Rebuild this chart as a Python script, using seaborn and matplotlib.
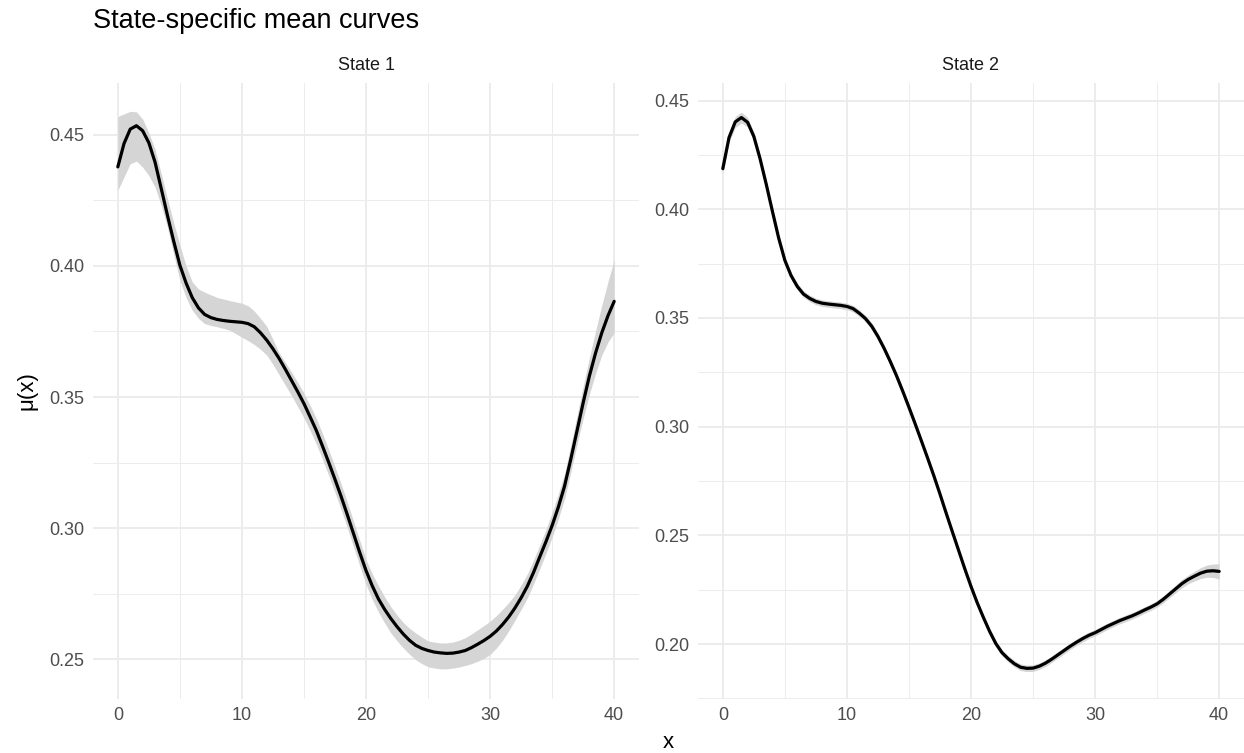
import numpy as np
import pandas as pd
import matplotlib
matplotlib.use("Agg")
import matplotlib.pyplot as plt
import seaborn as sns
from matplotlib.ticker import MultipleLocator, FormatStrFormatter

# ---------------- data (x step 0.5) ----------------
x_grid = [i / 2 for i in range(81)]

state1_mean = [0.4378, 0.4467, 0.4522, 0.4535, 0.4516, 0.4470, 0.4396, 0.4295, 0.4193, 0.4095,
               0.4003, 0.3935, 0.3879, 0.3840, 0.3815, 0.3803, 0.3796, 0.3792, 0.3789, 0.3787,
               0.3785, 0.3780, 0.3768, 0.3745, 0.3717, 0.3684, 0.3647, 0.3606, 0.3563, 0.3520,
               0.3475, 0.3424, 0.3372, 0.3312, 0.3250, 0.3186, 0.3120, 0.3050, 0.2978, 0.2906,
               0.2838, 0.2780, 0.2730, 0.2690, 0.2655, 0.2624, 0.2596, 0.2572, 0.2553, 0.2541,
               0.2533, 0.2527, 0.2524, 0.2522, 0.2523, 0.2527, 0.2533, 0.2544, 0.2557, 0.2571,
               0.2587, 0.2607, 0.2632, 0.2661, 0.2695, 0.2734, 0.2778, 0.2831, 0.2890, 0.2948,
               0.3010, 0.3080, 0.3160, 0.3262, 0.3370, 0.3478, 0.3580, 0.3668, 0.3745, 0.3810,
               0.3865]
state1_lower = [0.4288, 0.4340, 0.4390, 0.4400, 0.4377, 0.4345, 0.4301, 0.4230, 0.4148, 0.4045,
                0.3945, 0.3880, 0.3831, 0.3800, 0.3780, 0.3773, 0.3768, 0.3762, 0.3755, 0.3742,
                0.3728, 0.3715, 0.3700, 0.3682, 0.3660, 0.3625, 0.3585, 0.3545, 0.3505, 0.3463,
                0.3420, 0.3372, 0.3320, 0.3262, 0.3200, 0.3136, 0.3070, 0.3000, 0.2928, 0.2855,
                0.2785, 0.2728, 0.2680, 0.2638, 0.2600, 0.2570, 0.2543, 0.2519, 0.2498, 0.2483,
                0.2471, 0.2466, 0.2463, 0.2463, 0.2466, 0.2470, 0.2476, 0.2483, 0.2492, 0.2503,
                0.2518, 0.2542, 0.2572, 0.2608, 0.2648, 0.2690, 0.2733, 0.2787, 0.2845, 0.2903,
                0.2965, 0.3035, 0.3112, 0.3212, 0.3318, 0.3418, 0.3510, 0.3590, 0.3660, 0.3710,
                0.3745]
state1_upper = [0.4570, 0.4580, 0.4590, 0.4588, 0.4560, 0.4508, 0.4445, 0.4352, 0.4256, 0.4165,
                0.4080, 0.4000, 0.3939, 0.3912, 0.3900, 0.3890, 0.3880, 0.3874, 0.3868, 0.3863,
                0.3858, 0.3848, 0.3828, 0.3800, 0.3770, 0.3720, 0.3668, 0.3632, 0.3595, 0.3556,
                0.3515, 0.3468, 0.3418, 0.3360, 0.3298, 0.3234, 0.3168, 0.3098, 0.3025, 0.2952,
                0.2880, 0.2826, 0.2780, 0.2738, 0.2700, 0.2668, 0.2640, 0.2618, 0.2600, 0.2584,
                0.2570, 0.2565, 0.2562, 0.2562, 0.2565, 0.2572, 0.2582, 0.2596, 0.2612, 0.2628,
                0.2645, 0.2666, 0.2690, 0.2716, 0.2745, 0.2783, 0.2825, 0.2878, 0.2935, 0.2995,
                0.3060, 0.3130, 0.3208, 0.3315, 0.3428, 0.3540, 0.3650, 0.3752, 0.3850, 0.3940,
                0.4024]

state2_mean = [0.4187, 0.4330, 0.4402, 0.4422, 0.4400, 0.4335, 0.4233, 0.4115, 0.3990, 0.3868,
               0.3765, 0.3695, 0.3645, 0.3610, 0.3590, 0.3576, 0.3568, 0.3564, 0.3561, 0.3558,
               0.3553, 0.3543, 0.3522, 0.3497, 0.3462, 0.3415, 0.3360, 0.3299, 0.3234, 0.3163,
               0.3089, 0.3013, 0.2935, 0.2856, 0.2775, 0.2690, 0.2602, 0.2516, 0.2431, 0.2346,
               0.2265, 0.2190, 0.2122, 0.2058, 0.2002, 0.1960, 0.1932, 0.1909, 0.1893, 0.1888,
               0.1889, 0.1898, 0.1912, 0.1930, 0.1950, 0.1970, 0.1990, 0.2008, 0.2025, 0.2040,
               0.2052, 0.2067, 0.2082, 0.2095, 0.2108, 0.2119, 0.2130, 0.2143, 0.2157, 0.2170,
               0.2185, 0.2206, 0.2230, 0.2254, 0.2278, 0.2297, 0.2312, 0.2326, 0.2335, 0.2337,
               0.2334]
state2_halfwidth = [0.0022, 0.0022, 0.0025, 0.0025, 0.0022, 0.0020, 0.0018, 0.0015, 0.0015, 0.0015,
                    0.0015, 0.0015, 0.0015, 0.0015, 0.0015, 0.0015, 0.0015, 0.0015, 0.0015, 0.0015,
                    0.0015, 0.0015, 0.0015, 0.0015, 0.0015, 0.0015, 0.0015, 0.0015, 0.0015, 0.0015,
                    0.0015, 0.0012, 0.0012, 0.0012, 0.0012, 0.0012, 0.0012, 0.0012, 0.0012, 0.0012,
                    0.0012, 0.0012, 0.0012, 0.0015, 0.0015, 0.0015, 0.0015, 0.0015, 0.0015, 0.0015,
                    0.0015, 0.0015, 0.0015, 0.0015, 0.0015, 0.0015, 0.0015, 0.0015, 0.0015, 0.0015,
                    0.0015, 0.0015, 0.0015, 0.0015, 0.0015, 0.0015, 0.0015, 0.0015, 0.0015, 0.0015,
                    0.0015, 0.0016, 0.0017, 0.0018, 0.0019, 0.0020, 0.0022, 0.0025, 0.0028, 0.0031,
                    0.0035]

panel_labels = ["State 1", "State 2"]
x_ticks = [0, 10, 20, 30, 40]
y_limits = [(0.2348, 0.4698), (0.1747, 0.4581)]

# ---------------- long frame ----------------
s2_lo = [m - h for m, h in zip(state2_mean, state2_halfwidth)]
s2_hi = [m + h for m, h in zip(state2_mean, state2_halfwidth)]
df = pd.concat([
    pd.DataFrame({"x": x_grid, "mu": state1_mean, "lo": state1_lower,
                  "hi": state1_upper, "state": panel_labels[0]}),
    pd.DataFrame({"x": x_grid, "mu": state2_mean, "lo": s2_lo,
                  "hi": s2_hi, "state": panel_labels[1]}),
])

sns.set_theme(style="white")
plt.rcParams["font.family"] = ["Liberation Sans", "DejaVu Sans"]

W, H = 1244, 753
fig = plt.figure(figsize=(W / 100, H / 100), dpi=100)

def box(x0, x1, ytop, ybot):
    return [x0 / W, 1 - ybot / H, (x1 - x0) / W, (ybot - ytop) / H]

panel_px = [(93, 639), (698, 1244)]
ytop, ybot = 83, 699
tick_fs = 13

for i, lab in enumerate(panel_labels):
    x0, x1 = panel_px[i]
    ax = fig.add_axes(box(x0, x1, ytop, ybot))
    sub = df[df["state"] == lab]
    ax.fill_between(sub["x"], sub["lo"], sub["hi"], color="#D5D5D5",
                    linewidth=0, zorder=2)
    sns.lineplot(data=sub, x="x", y="mu", ax=ax, color="black",
                 linewidth=2.3, errorbar=None, zorder=3)
    ax.set_xlim(-2, 42)
    ax.set_ylim(*y_limits[i])
    ax.xaxis.set_minor_locator(MultipleLocator(5))
    ax.yaxis.set_major_locator(MultipleLocator(0.05))
    ax.yaxis.set_minor_locator(MultipleLocator(0.025))
    ax.set_xticks(x_ticks)
    ax.set_xticklabels([str(t) for t in x_ticks])
    ax.yaxis.set_major_formatter(FormatStrFormatter("%.2f"))
    ax.grid(which="major", color="#EBEBEB", linewidth=1.3, zorder=0)
    ax.grid(which="minor", color="#EBEBEB", linewidth=0.65, zorder=0)
    ax.set_axisbelow(True)
    for s in ax.spines.values():
        s.set_visible(False)
    ax.tick_params(which="both", length=0, labelsize=tick_fs,
                   colors="#4D4D4D")
    ax.tick_params(axis="y", pad=6.5)
    ax.tick_params(axis="x", pad=5.5)
    ax.set_xlabel("")
    ax.set_ylabel("")
    fig.text(((x0 + x1) / 2) / W, 1 - 66 / H, lab, ha="center", va="center",
             fontsize=tick_fs, color="#1A1A1A")

fig.text(93 / W, 1 - 21 / H, "State-specific mean curves", ha="left",
         va="center", fontsize=19.5, color="black")
fig.text(668 / W, 1 - 742 / H, "x", ha="center", va="center",
         fontsize=16, color="black")
fig.text(27 / W, 1 - 391 / H, "μ(x)", ha="center", va="center",
         rotation=90, fontsize=16, color="black")

fig.savefig("out.png", dpi=100, facecolor="white")
